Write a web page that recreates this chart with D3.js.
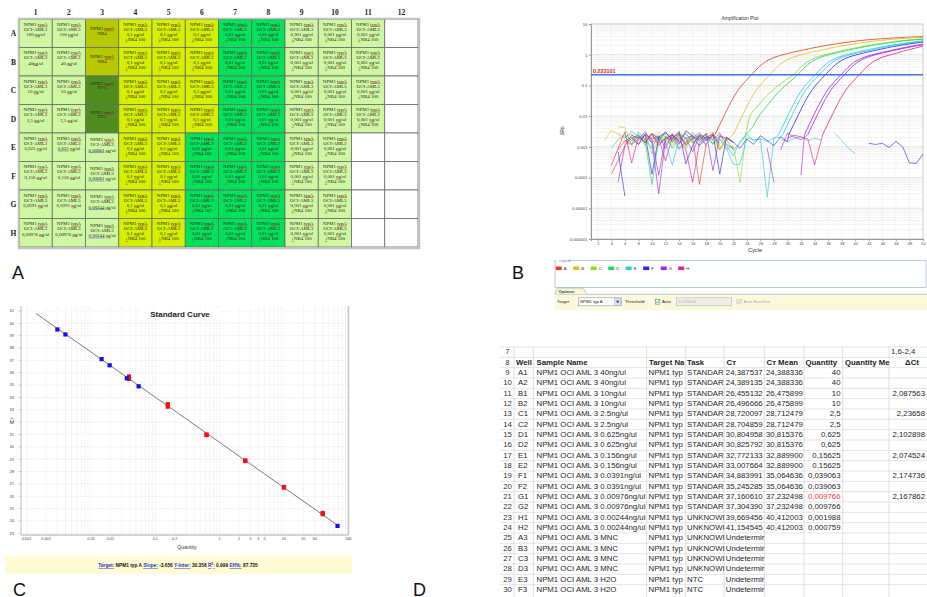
<!DOCTYPE html>
<html>
<head>
<meta charset="utf-8">
<script src="https://cdn.jsdelivr.net/npm/d3@7"></script>
<style>
  body { margin: 0; background: #fff; }
  svg { display: block; }
</style>
</head>
<body>
<svg id="chart" width="927" height="597"></svg>
<script>
// ---------- data: A, plate layout ----------
var plateCols = ['1','2','3','4','5','6','7','8','9','10','11','12'];
var plateRows = ['A','B','C','D','E','F','G','H'];
// s = standard, x = low standard, n = NB4, t = NTC, u/v/w = dilutions, - = empty
var plateLayout = [
  'ssnuuuvvwww-',
  'ssnuuuvvwww-',
  'sstuuuvvwww-',
  'sstuuuvvwww-',
  'ssxuuvvvww--',
  'ssxuuvvvww--',
  'ssxuuvvvww--',
  'ssxuuvvvww--'
];
var stdConc1 = ['100 ng/ul','40ng/ul','10 ng/ul','2,5 ng/ul','0,625 ng/ul','0,156 ng/ul','0,0391 ng/ul','0,00976 ng/ul'];
var stdConc2 = ['100 ng/ul','40 ng/ul','10 ng/ul','2,5 ng/ul','0,625 ng/ul','0,156 ng/ul','0,0391 ng/ul','0,00976 ng/ul'];
var lowConc = {E:'0,00061 ng/ul', F:'0,00061 ng/ul', G:'0,00244 ng/ul', H:'0,00244 ng/ul'};
var dilConc = {u:'0,1 ng/ul', v:'0,01 ng/ul', w:'0,001 ng/ul'};

// ---------- data: B, amplification plot ----------
var ampXTicks = [2,4,6,8,10,12,14,16,18,20,22,24,26,28,30,32,34,36,38,40,42,44,46,48,50];
var ampYTicks = [10,1,0.1,0.01,0.001,0.0001,0.00001,0.000001];
var ampYLabels = ['10','1','0.1','0.01','0.001','0.0001','0.00001','0.000001'];
var threshold = 0.223101;

// wells: baseline noise (one value per cycle from `start`) then the rise
var ampWells = [
  {row:'A', start:4, noise:[0.00013,0.00035,0.0011,0.0019,0.0024,0.0014,0.0027,0.0018,0.0031,0.0015,0.0024,0.0011,0.002,0.0029,0.0017,0.0021],
   rise:[[19.3,0.0025],[20.7,0.011],[21.7,0.03],[22.7,0.07],[23.7,0.13],[24.7,0.223],[25.7,0.38],[26.7,0.58],[27.7,0.76],[29.7,1.05],[31.7,1.33],[34.7,1.83],[37.7,2.35],[40.7,2.88],[43.7,3.3],[46.7,3.62],[50,3.9]]},
  {row:'B', start:3, noise:[0.0016,0.0035,0.0025,0.0013,0.0012,0.0022,0.0018,0.0028,0.0021,0.0015,0.0027,0.0019,0.0031,0.0024,0.0014,0.0021,0.0026,0.0009,0.0017],
   rise:[[22,0.0025],[23.4,0.011],[24.4,0.03],[25.4,0.07],[26.4,0.13],[27.4,0.223],[28.4,0.38],[29.4,0.58],[30.4,0.76],[32.4,1.05],[34.4,1.33],[37.4,1.83],[40.4,2.35],[43.4,2.88],[46.4,3.3],[49.4,3.62],[50,3.66]]},
  {row:'C', start:5, noise:[0.0045,0.0042,0.0011,0.0019,0.0026,0.0006,0.0018,0.0022,0.0013,0.0028,0.0009,0.0024,0.0016,0.002,0.0012,0.0025,0.0008,0.0011,0.00007],
   rise:[[24,0.004],[24.4,0.009],[25.5,0.02],[26.9,0.045],[27.9,0.072],[28.9,0.11],[29.9,0.16],[30.9,0.223],[31.9,0.38],[32.9,0.58],[33.9,0.76],[35.9,1.05],[37.9,1.33],[40.9,1.83],[43.9,2.35],[46.9,2.88],[50,3.3]]},
  {row:'D', start:5, noise:[0.0028,0.0019,0.0032,0.0021,0.0015,0.00006,0.0018,0.0026,0.0009,0.0021,0.0014,0.0029,0.0019,0.0024,0.0012,0.0022,0.0017,0.0008,0.0013,0.0027],
   rise:[[24.9,0.0045],[25.5,0.008],[26.5,0.016],[27.5,0.03],[28.5,0.055],[29.5,0.09],[30.5,0.14],[31.5,0.223],[32.5,0.38],[33.5,0.58],[34.5,0.76],[36.5,1.05],[38.5,1.33],[41.5,1.83],[44.5,2.35],[47.5,2.88],[50,3.2]]},
  {row:'E', start:6, noise:[0.0022,0.0012,0.0031,0.0017,0.0009,0.0024,0.0014,0.00025,0.0019,0.0026,0.0016,0.0011,0.0021,0.0013,0.0018,0.0009,0.00027,0.00027,0.002,0.0017,0.0018,0.0015,0.0019],
   rise:[[28.7,0.0025],[30.1,0.011],[31.1,0.03],[32.1,0.07],[33.1,0.13],[34.1,0.223],[35.1,0.38],[36.1,0.58],[37.1,0.76],[39.1,1.05],[41.1,1.33],[44.1,1.83],[47.1,2.35],[50,2.85]]},
  {row:'E', start:7, noise:[0.0016,0.0026,0.0011,0.0021,0.0017,0.0029,0.0019,0.0008,0.0014,0.0023,0.0019,0.0012,0.0025,0.0017,0.0011,0.0005,0.0016,0.0026,0.0016,0.0019,0.000023,0.0019,0.0021],
   rise:[[29.3,0.0025],[30.7,0.011],[31.7,0.03],[32.7,0.07],[33.7,0.13],[34.7,0.223],[35.7,0.38],[36.7,0.58],[37.7,0.76],[39.7,1.05],[41.7,1.33],[44.7,1.83],[47.7,2.35],[50,2.75]]},
  {row:'F', start:5, noise:[0.0007,0.000025,null,0.0016,0.0024,0.00013,0.0021,0.0029,0.0018,0.0032,0.00028,0.0011,0.0025,0.0019,0.0027,0.00013,0.0021,0.0014,0.0009,0.0018,0.0012,0.0023,0.0016,0.0011,0.0021,0.0015],
   rise:[[30.2,0.0025],[31.6,0.011],[32.6,0.03],[33.6,0.07],[34.6,0.13],[35.6,0.223],[36.6,0.38],[37.6,0.58],[38.6,0.76],[40.6,1.05],[42.6,1.33],[45.6,1.83],[48.6,2.35],[50,2.55]]},
  {row:'G', start:5, noise:[0.00007,0.0011,0.0024,0.0019,0.0031,0.0013,0.00003,0.0017,0.0025,0.0012,0.0034,0.0022,0.0016,0.0028,0.00017,0.0023,0.0019,0.0014,null,null,null,null,0.0009,0.00007,null,null,null,0.00012],
   rise:[[32.5,0.0025],[33.9,0.011],[34.9,0.03],[35.9,0.07],[36.9,0.13],[37.9,0.223],[38.9,0.38],[39.9,0.58],[40.9,0.76],[42.9,1.05],[44.9,1.33],[47.9,1.83],[50,2.2]]},
  {row:'G', start:6, noise:[0.0015,0.0021,0.0012,0.0027,0.0018,0.0022,0.0009,0.0026,0.0014,0.0019,0.0023,0.0011,0.0017,0.0024,0.0013,null,null,null,null,null,null,null,null,0.0008,0.0028,0.0021,0.0017],
   rise:[[33,0.0025],[34.4,0.011],[35.4,0.03],[36.4,0.07],[37.4,0.13],[38.4,0.223],[39.4,0.38],[40.4,0.58],[41.4,0.76],[43.4,1.05],[45.4,1.33],[48.4,1.83],[50,2.1]]},
  {row:'H', start:4, noise:[0.00025,0.0009,0.0031,0.0003,0.0021,0.0014,0.0026,0.0011,0.0019,0.0024,0.0016,0.0008,0.00007,0.0013,0.0022,0.0017,0.0028,0.0012,0.0009,null,null,null,null,null,null,null,0.0019,0.0024,0.0021,0.0018,0.00026],
   rise:[[35.2,0.0025],[36.6,0.011],[37.6,0.03],[38.6,0.07],[39.6,0.13],[40.6,0.223],[41.6,0.38],[42.6,0.58],[43.6,0.76],[45.6,1.05],[47.6,1.4],[50,1.9]]}
];
// MNC / NTC wells and late baseline pieces (noise only)
var ampNoise = [
  {row:'A', start:5, noise:[0.0008,0.0016,0.0012,0.0023,0.0017,0.0026,0.0013,0.0019,0.0024,0.0009,0.0015,0.0021,0.00006,0.0012,0.0026,0.0008,0.0019,0.0014]},
  {row:'C', start:6, noise:[0.0021,0.0027,0.0012,0.0018,0.0009,0.0022,0.0016,0.0011,0.0024,0.0019,0.0013,0.0021,0.0026,0.0015,0.0009]},
  {row:'B', start:8, noise:[0.0019,0.0024,0.0015,0.0029,0.0021,0.0017,0.0026,0.0012,0.0022,0.0018,0.0025,0.0031,0.0008,0.0019]},
  {row:'D', start:4, noise:[0.0009,0.0017,0.0025,0.0016,0.0021,0.0013,0.0027,0.0019,0.0012,0.0023,0.0017,0.0028,0.0014,0.0021,0.0016,0.0024,0.0011]},
  {row:'G', start:7, noise:[0.0019,0.0012,0.0026,0.0017,0.00012,0.0021,0.0015,0.0028,0.0019,0.0007,0.0022,0.0016]},
  {row:'H', start:9, noise:[0.0023,0.0014,0.0019,0.00035,0.0021,0.0027,0.0012,0.0018,0.0024,0.0011]},
  {row:'E', start:29, noise:[0.0017,0.0015,0.0019,0.0021,0.0016,0.0019,0.0017,null,0.0028,0.0016,0.0009,0.0006]},
  {row:'F', start:42, noise:[0.0013,0.0012,0.0013,0.00095,0.0015,0.001,0.0003,0.00029,0.00058]}
];
var rowColors = {A:'#ec3a22', B:'#e6bd14', C:'#84e02c', D:'#22d45a', E:'#2cc8ea', F:'#2430e6', G:'#9a2ae6', H:'#e6208a'};

// ---------- data: C, standard curve ----------
var stdQty = [40,40,10,10,2.5,2.5,0.625,0.625,0.156,0.156,0.039,0.039];
var stdCt  = [24.55,24.65,26.7,26.75,28.9,28.85,30.95,31.0,33.25,33.45,35.5,35.7];
var unkQty = [68,0.036,0.055,0.0195,0.0146,0.004,0.003];
var unkCt  = [23.6,35.55,34.9,36.6,37.1,39.1,39.5];
var fitSlope = -3.656, fitIntercept = 30.358, fitRange = [0.0014, 68];
var qtyTicks = [0.001,0.002,0.01,0.02,0.1,0.2,1,2,3,4,5,10,20,30,100];
var ctTicks = [23,24,25,26,27,28,29,30,31,32,33,34,35,36,37,38,39,40,41];

// ---------- data: D, results table ----------
var tblRowNums = [7,8,9,10,11,12,13,14,15,16,17,18,19,20,21,22,23,24,25,26,27,28,29,30];
var tblHeader = ['Well','Sample Name','Target Na','Task','C\u0442','C\u0442 Mean','Quantity','Quantity Me','\u0394Ct'];
var tblWell = ['A1','A2','B1','B2','C1','C2','D1','D2','E1','E2','F1','F2','G1','G2','H1','H2','A3','B3','C3','D3','E3','F3'];
var tblSample = ['NPM1 OCI AML 3 40ng/ul','NPM1 OCI AML 3 40ng/ul','NPM1 OCI AML 3 10ng/ul','NPM1 OCI AML 3 10ng/ul',
  'NPM1 OCI AML 3 2.5ng/ul','NPM1 OCI AML 3 2.5ng/ul','NPM1 OCI AML 3 0.625ng/ul','NPM1 OCI AML 3 0.625ng/ul',
  'NPM1 OCI AML 3 0.156ng/ul','NPM1 OCI AML 3 0.156ng/ul','NPM1 OCI AML 3 0.0391ng/ul','NPM1 OCI AML 3 0.0391ng/ul',
  'NPM1 OCI AML 3 0.00976ng/ul','NPM1 OCI AML 3 0.00976ng/ul','NPM1 OCI AML 3 0.00244ng/ul','NPM1 OCI AML 3 0.00244ng/ul',
  'NPM1 OCI AML 3 MNC','NPM1 OCI AML 3 MNC','NPM1 OCI AML 3 MNC','NPM1 OCI AML 3 MNC','NPM1 OCI AML 3 H2O','NPM1 OCI AML 3 H2O'];
var tblTarget = ['NPM1 typ','NPM1 typ','NPM1 typ','NPM1 typ','NPM1 typ','NPM1 typ','NPM1 typ','NPM1 typ','NPM1 typ','NPM1 typ','NPM1 typ',
  'NPM1 typ','NPM1 typ','NPM1 typ','NPM1 typ','NPM1 typ','NPM1 typ','NPM1 typ','NPM1 typ','NPM1 typ','NPM1 typ','NPM1 typ'];
var tblTask = ['STANDAR','STANDAR','STANDAR','STANDAR','STANDAR','STANDAR','STANDAR','STANDAR','STANDAR','STANDAR','STANDAR',
  'STANDAR','STANDAR','STANDAR','UNKNOWI','UNKNOWI','UNKNOWI','UNKNOWI','UNKNOWI','UNKNOWI','NTC','NTC'];
var tblCt = ['24,387537','24,389135','26,455132','26,496666','28,720097','28,704859','30,804958','30,825792','32,772133','33,007664',
  '34,883991','35,245285','37,160610','37,304390','39,669456','41,154545','Undetermir','Undetermir','Undetermir','Undetermir','Undetermir','Undetermir'];
var tblCtMean = ['24,388336','24,388336','26,475899','26,475899','28,712479','28,712479','30,815376','30,815376','32,889900','32,889900',
  '35,064636','35,064636','37,232498','37,232498','40,412003','40,412003','','','','','',''];
var tblQty = ['40','40','10','10','2,5','2,5','0,625','0,625','0,15625','0,15625','0,039063','0,039063','0,009766','0,009766','0,001988','0,000759','','','','','',''];
var tblDct = ['','','2,087563','','2,23658','','2,102898','','2,074524','','2,174736','','2,167862','','','','','','','','',''];
var tblRangeNote = '1,6-2,4';

var svg = d3.select('#chart');
var SANS = 'Liberation Sans, Arial, sans-serif';
var SERIF = 'Liberation Serif, Times New Roman, serif';

// ================= A: plate =================
var gA = svg.append('g');
var px = d3.scaleBand().domain(plateCols).range([19, 418]);
var py = d3.scaleBand().domain(plateRows).range([19, 247]);
var cellFill = {s:'#cdf7a0', x:'#cdf7a0', w:'#cdf7a0', n:'#b6c800', t:'#4f8e1e', u:'#d4f000', v:'#00e25a', '-':'#ffffff'};

gA.selectAll('text.colh').data(plateCols).enter().append('text')
  .attr('x', function(d) { return px(d) + px.bandwidth() / 2; })
  .attr('y', 14.5).attr('text-anchor', 'middle')
  .style('font', 'bold 7.5px ' + SERIF).style('fill', '#222').text(function(d) { return d; });
gA.selectAll('text.rowh').data(plateRows).enter().append('text')
  .attr('x', 13.5).attr('y', function(d) { return py(d) + py.bandwidth() / 2 + 2.8; })
  .attr('text-anchor', 'middle')
  .style('font', 'bold 7.5px ' + SERIF).style('fill', '#222').text(function(d) { return d; });

// text lines + baseline offsets for a cell
function cellLines(code, ri, ci) {
  var r = plateRows[ri];
  if (code === 's') return {lines:['NPM1 typA','OCI-AML3', ci === 0 ? stdConc1[ri] : stdConc2[ri]], off:[6.8, 11.9, 17]};
  if (code === 'x') return {lines:['NPM1 typA','OCI-AML3', lowConc[r]], off:[8.3, 13.4, 18.5], blue:true};
  if (code === 'n') return {lines:['NPM1 typA','NB4'], off:[10.8, 15.8]};
  if (code === 't') return {lines:['NPM1 typA','NTC'], off:[9, 13.4]};
  if (code === '-') return {lines:[], off:[]};
  return {lines:['NPM1 typA','OCI-AML3', dilConc[code], '\u2193NB4 100'], off:[6.6, 11.7, 16.8, 21.9]};
}

plateLayout.forEach(function(rowStr, ri) {
  plateCols.forEach(function(col, ci) {
    var code = rowStr[ci];
    var x0 = px(col), y0 = py(plateRows[ri]);
    gA.append('rect').attr('x', x0).attr('y', y0)
      .attr('width', px.bandwidth()).attr('height', py.bandwidth())
      .style('fill', cellFill[code]).style('stroke', '#6a6a6a').style('stroke-width', 0.8);
    var info = cellLines(code, ri, ci);
    info.lines.forEach(function(s, li) {
      var t = gA.append('text').attr('x', x0 + px.bandwidth() / 2).attr('y', y0 + info.off[li])
        .attr('text-anchor', 'middle').style('font', '4.9px ' + SERIF).style('fill', '#2a2a2a').text(s);
      var node = t.node();
      // spell-check style underlines
      function underline(i0, i1, color) {
        if (i0 < 0) return;
        var a = node.getStartPositionOfChar(i0).x, b = node.getEndPositionOfChar(i1).x;
        gA.append('line').attr('x1', a).attr('x2', b)
          .attr('y1', y0 + info.off[li] + 0.9).attr('y2', y0 + info.off[li] + 0.9)
          .style('stroke', color).style('stroke-width', 0.55);
      }
      if (s.indexOf('typA') >= 0) underline(s.indexOf('typA'), s.indexOf('typA') + 3, '#e23030');
      if (s.indexOf('ng/') >= 0) {
        if (info.blue || (ci === 1 && ri === 4)) underline(0, s.indexOf(' ng') > 0 ? s.indexOf(' ng') - 1 : 4, '#3050d0');
        underline(s.indexOf('ng/'), s.indexOf('ng/') + 1, '#e23030');
      }
      if (s.charAt(0) === '\u2193') underline(0, 0, '#e23030');
    });
  });
});
gA.append('rect').attr('x', 18.5).attr('y', 18.5).attr('width', 401).attr('height', 230)
  .style('fill', 'none').style('stroke', '#c4c4c4').style('stroke-width', 1.6);

// ================= B: amplification plot =================
var gB = svg.append('g');
var ax = d3.scaleLinear().domain([1, 50]).range([591, 923]);
var ay = d3.scaleLog().domain([1e-6, 10]).range([239, 24]);

gB.append('text').attr('x', 740).attr('y', 20).attr('text-anchor', 'middle')
  .style('font', '4.8px ' + SANS).style('fill', '#333').text('Amplification Plot');

// grid
var minorVals = [];
ampYTicks.slice(1).forEach(function(d) { for (var m = 2; m <= 9; m++) minorVals.push(d * m); });
gB.selectAll('line.ymin').data(minorVals).enter().append('line')
  .attr('x1', ax(1)).attr('x2', ax(50)).attr('y1', function(d) { return ay(d); }).attr('y2', function(d) { return ay(d); })
  .style('stroke', '#e9e9e9').style('stroke-width', 0.6);
gB.selectAll('line.ymaj').data(ampYTicks).enter().append('line')
  .attr('x1', ax(1)).attr('x2', ax(50)).attr('y1', function(d) { return ay(d); }).attr('y2', function(d) { return ay(d); })
  .style('stroke', '#d4d4d4').style('stroke-width', 0.6);
gB.selectAll('line.xg').data(ampXTicks).enter().append('line')
  .attr('x1', function(d) { return ax(d); }).attr('x2', function(d) { return ax(d); }).attr('y1', ay(10)).attr('y2', ay(1e-6))
  .style('stroke', '#e2e2e2').style('stroke-width', 0.6).style('stroke-dasharray', '1.5,1');
gB.append('rect').attr('x', ax(1)).attr('y', ay(10)).attr('width', ax(50) - ax(1)).attr('height', ay(1e-6) - ay(10))
  .style('fill', 'none').style('stroke', '#c8c8c8').style('stroke-width', 0.8);

// axes
var xAxisB = d3.axisBottom(ax).tickValues(ampXTicks).tickSize(2).tickPadding(1.5);
gB.append('g').attr('transform', 'translate(0,' + ay(1e-6) + ')').call(xAxisB)
  .call(function(g) {
    g.select('.domain').style('stroke', '#999');
    g.selectAll('line').style('stroke', '#999');
    g.selectAll('text').style('font', '3.9px ' + SANS).style('fill', '#444');
  });
var yAxisB = d3.axisLeft(ay).tickValues(ampYTicks).tickSize(2).tickPadding(1.5)
  .tickFormat(function(d, i) { return ampYLabels[i]; });
gB.append('g').attr('transform', 'translate(' + ax(1) + ',0)').call(yAxisB)
  .call(function(g) {
    g.select('.domain').style('stroke', '#999');
    g.selectAll('line').style('stroke', '#999');
    g.selectAll('text').style('font', '4.2px ' + SANS).style('fill', '#444');
  });
gB.append('text').attr('x', 755).attr('y', 252).attr('text-anchor', 'middle')
  .style('font', '5.6px ' + SANS).style('fill', '#333').text('Cycle');
gB.append('text').attr('transform', 'translate(564,131) rotate(-90)').attr('text-anchor', 'middle')
  .style('font', '4.6px ' + SANS).style('fill', '#333').text('\u0394Rn');

// curves
gB.append('clipPath').attr('id', 'ampClip').append('rect')
  .attr('x', ax(1)).attr('y', ay(10)).attr('width', ax(50) - ax(1)).attr('height', ay(1e-6) - ay(10));
var gCurves = gB.append('g').attr('clip-path', 'url(#ampClip)');
var noiseLine = d3.line().defined(function(d) { return d[1] != null; })
  .x(function(d) { return ax(d[0]); }).y(function(d) { return ay(d[1]); });
var riseLine = d3.line().curve(d3.curveMonotoneX)
  .x(function(d) { return ax(d[0]); }).y(function(d) { return ay(d[1]); });
function noisePts(w) { return w.noise.map(function(v, i) { return [w.start + i, v]; }); }

ampNoise.forEach(function(w) {
  gCurves.append('path').attr('d', noiseLine(noisePts(w)))
    .style('fill', 'none').style('stroke', rowColors[w.row]).style('stroke-width', 0.75).style('opacity', 0.85);
});
ampWells.forEach(function(w) {
  var pts = noisePts(w);
  var last = pts[pts.length - 1];
  if (last[1] != null) pts.push(w.rise[0]);
  gCurves.append('path').attr('d', noiseLine(pts))
    .style('fill', 'none').style('stroke', rowColors[w.row]).style('stroke-width', 0.75).style('opacity', 0.85);
  gCurves.append('path').attr('d', riseLine(w.rise))
    .style('fill', 'none').style('stroke', rowColors[w.row]).style('stroke-width', 0.9).style('opacity', 0.9);
});

// threshold
gB.append('line').attr('x1', ax(1)).attr('x2', ax(50)).attr('y1', ay(threshold)).attr('y2', ay(threshold))
  .style('stroke', '#3d6ff0').style('stroke-width', 1.6);
gB.append('text').attr('x', ax(1) + 2).attr('y', ay(threshold) - 1.6)
  .style('font', 'bold 5.4px ' + SANS).style('fill', '#f02020').text('0.223101');

// legend box
gB.append('rect').attr('x', 555).attr('y', 260.5).attr('width', 371).attr('height', 27)
  .style('fill', '#fff').style('stroke', '#a9bcd6').style('stroke-width', 0.8);
gB.append('rect').attr('x', 556).attr('y', 258.5).attr('width', 12).attr('height', 4).style('fill', '#fff');
gB.append('text').attr('x', 557).attr('y', 262).style('font', '3.4px ' + SANS).style('fill', '#7a8aa0').text('\u25e6 Legend');
var lx = d3.scaleBand().domain(plateRows).range([555.7, 695.7]);
var lg = gB.selectAll('g.leg').data(plateRows).enter().append('g');
lg.append('rect').attr('x', function(d) { return lx(d); }).attr('y', 266.5).attr('width', 6).attr('height', 3.6)
  .style('fill', function(d) { return rowColors[d]; });
lg.append('text').attr('x', function(d) { return lx(d) + 8; }).attr('y', 269.8)
  .style('font', '4.2px ' + SANS).style('fill', '#333').text(function(d) { return d; });

// options panel
gB.append('rect').attr('x', 555).attr('y', 294.3).attr('width', 372).attr('height', 16)
  .style('fill', '#fdf9dc');
gB.append('line').attr('x1', 555).attr('x2', 927).attr('y1', 294.3).attr('y2', 294.3)
  .style('stroke', '#9fb4cf').style('stroke-width', 0.8);
gB.append('path').attr('d', 'M555,294.3 L556.5,289 Q557,288 559,288 L581,288 Q583,288 584,289.5 L587,294.3')
  .style('fill', '#fdf6d0').style('stroke', '#9fb4cf').style('stroke-width', 0.8);
gB.append('text').attr('x', 558.5).attr('y', 292.8).style('font', 'bold 4.2px ' + SANS).style('fill', '#2c4a78').text('Options');
function optText(x, s, col) {
  gB.append('text').attr('x', x).attr('y', 303.3).style('font', '4.3px ' + SANS).style('fill', col || '#222').text(s);
}
optText(557, 'Target:');
gB.append('rect').attr('x', 578.5).attr('y', 297.8).attr('width', 43).attr('height', 8)
  .style('fill', '#fff').style('stroke', '#8a9ab0').style('stroke-width', 0.6);
gB.append('rect').attr('x', 614.5).attr('y', 298.3).attr('width', 6.5).attr('height', 7)
  .style('fill', '#d6e2f2').style('stroke', '#9fb0c8').style('stroke-width', 0.4);
gB.append('path').attr('d', 'M616,300.8 L619.5,300.8 L617.75,303.3 Z').style('fill', '#304870');
optText(580, 'NPM1 typ A');
optText(625, 'Threshold:');
gB.append('rect').attr('x', 655.3).attr('y', 299.5).attr('width', 4.6).attr('height', 4.6)
  .style('fill', '#fff').style('stroke', '#3a6a9a').style('stroke-width', 0.5);
gB.append('path').attr('d', 'M656.2,301.7 L657.4,303.1 L659.2,300.2').style('fill', 'none').style('stroke', '#1a9a1a').style('stroke-width', 0.7);
optText(662, 'Auto');
gB.append('rect').attr('x', 676.5).attr('y', 297.8).attr('width', 55).attr('height', 8)
  .style('fill', '#efefe6').style('stroke', '#b8b8b0').style('stroke-width', 0.6);
optText(678.5, '0.223101', '#aaa');
gB.append('rect').attr('x', 736.8).attr('y', 299.5).attr('width', 4.4).attr('height', 4.4)
  .style('fill', '#f4f4ee').style('stroke', '#bbb').style('stroke-width', 0.5);
gB.append('path').attr('d', 'M737.6,301.6 L738.8,303 L740.6,300.1').style('fill', 'none').style('stroke', '#aaa').style('stroke-width', 0.6);
optText(743.5, 'Auto Baseline', '#aaa');

// ================= C: standard curve =================
var gC = svg.append('g');
var cx = d3.scaleLog().domain([0.001, 100]).range([26.7, 348.3]);
var cy = d3.scaleLinear().domain([23, 40]).range([533.3, 323.3]);
var cTop = cy(41.4), cBot = 535, cLeft = 21, cRight = 348.5;

// grid
var qMinor = [];
[0.001,0.01,0.1,1,10].forEach(function(d) { for (var m = 1; m <= 9; m++) qMinor.push(d * m); });
qMinor.push(100);
gC.selectAll('line.qg').data(qMinor).enter().append('line')
  .attr('x1', function(d) { return cx(d); }).attr('x2', function(d) { return cx(d); }).attr('y1', cTop).attr('y2', cBot)
  .style('stroke', '#dcdcdc').style('stroke-width', 0.6).style('stroke-dasharray', '1,1');
gC.selectAll('line.cg').data(ctTicks).enter().append('line')
  .attr('x1', cLeft).attr('x2', cRight).attr('y1', function(d) { return cy(d); }).attr('y2', function(d) { return cy(d); })
  .style('stroke', '#dcdcdc').style('stroke-width', 0.6).style('stroke-dasharray', '1,1');

gC.append('rect').attr('x', 140).attr('y', 308.5).attr('width', 80).attr('height', 10).style('fill', '#fff');
gC.append('text').attr('x', 180).attr('y', 316.5).attr('text-anchor', 'middle')
  .style('font', 'bold 8px ' + SANS).style('fill', '#222').text('Standard Curve');

// axes
gC.append('line').attr('x1', cLeft).attr('x2', cLeft).attr('y1', cTop).attr('y2', cBot).style('stroke', '#aaa').style('stroke-width', 0.8);
gC.append('line').attr('x1', cLeft).attr('x2', cRight).attr('y1', cBot).attr('y2', cBot).style('stroke', '#aaa').style('stroke-width', 1);
gC.append('line').attr('x1', cRight).attr('x2', cRight).attr('y1', cTop).attr('y2', cBot).style('stroke', '#c8c8c8').style('stroke-width', 1.6);
gC.selectAll('text.ct').data(ctTicks).enter().append('text')
  .attr('x', 14).attr('y', function(d) { return cy(d) + 1.4; }).attr('text-anchor', 'end')
  .style('font', '4px ' + SANS).style('fill', '#444').text(function(d) { return d; });
gC.selectAll('line.ctk').data(ctTicks).enter().append('line')
  .attr('x1', cLeft - 2.5).attr('x2', cLeft).attr('y1', function(d) { return cy(d); }).attr('y2', function(d) { return cy(d); })
  .style('stroke', '#aaa').style('stroke-width', 0.5);
gC.selectAll('text.qt').data(qtyTicks).enter().append('text')
  .attr('x', function(d) { return cx(d); }).attr('y', 540.3).attr('text-anchor', 'middle')
  .style('font', '3.8px ' + SANS).style('fill', '#444').text(function(d) { return d; });
gC.append('text').attr('x', 187).attr('y', 548.5).attr('text-anchor', 'middle')
  .style('font', '5.2px ' + SANS).style('fill', '#333').text('Quantity');
gC.append('text').attr('transform', 'translate(13.5,420) rotate(-90)').attr('text-anchor', 'middle')
  .style('font', '5px ' + SANS).style('fill', '#333').text('C\u0442');

// regression line
var fitPts = fitRange.map(function(q) { return [q, fitSlope * Math.log10(q) + fitIntercept]; });
gC.append('line').attr('x1', cx(fitPts[0][0])).attr('y1', cy(fitPts[0][1]))
  .attr('x2', cx(fitPts[1][0])).attr('y2', cy(fitPts[1][1]))
  .style('stroke', '#6e6e6e').style('stroke-width', 0.9);

// points
var ptSize = 4.2;
gC.selectAll('rect.std').data(stdQty).enter().append('rect')
  .attr('x', function(d) { return cx(d) - ptSize / 2; }).attr('y', function(d, i) { return cy(stdCt[i]) - ptSize / 2; })
  .attr('width', ptSize).attr('height', ptSize).style('fill', '#f21010');
gC.selectAll('rect.unk').data(unkQty).enter().append('rect')
  .attr('x', function(d) { return cx(d) - ptSize / 2; }).attr('y', function(d, i) { return cy(unkCt[i]) - ptSize / 2; })
  .attr('width', ptSize).attr('height', ptSize).style('fill', '#1010f0');

// footer
gC.append('rect').attr('x', 5).attr('y', 556).attr('width', 347).attr('height', 18).style('fill', '#fffbd2');
var foot = gC.append('text').attr('x', 178).attr('y', 567).attr('text-anchor', 'middle')
  .style('font', 'bold 4.8px ' + SANS).style('fill', '#111');
var footParts = [['Target:', 1], [' NPM1 typ A ', 0], ['Slope:', 1], [' -3.656 ', 0], ['Y-Inter:', 1], [' 30.358 ', 0],
  ['R', 1], ['2', 2], [':', 1], [' 0.999 ', 0], ['Eff%:', 1], [' 87.735', 0]];
footParts.forEach(function(p) {
  var ts = foot.append('tspan').text(p[0]);
  if (p[1] === 1) ts.style('fill', '#2233cc').style('text-decoration', 'underline');
  if (p[1] === 2) ts.style('fill', '#2233cc').style('font-size', '3.2px').attr('dy', -1.6);
  if (p[0] === ':') ts.attr('dy', 1.6);
});

// ================= D: table =================
var gD = svg.append('g');
var colX = [500, 514, 533.3, 646.7, 685.7, 724, 764.3, 804, 842.7, 889, 927];
var ty = d3.scaleBand().domain(tblRowNums).range([346.5, 594.5]);
var FS = 7.8;

// grid lines
gD.selectAll('line.hr').data(tblRowNums).enter().append('line')
  .attr('x1', 500).attr('x2', 927).attr('y1', function(d) { return ty(d) + 0.5; }).attr('y2', function(d) { return ty(d) + 0.5; })
  .style('stroke', '#dadada').style('stroke-width', 0.7);
gD.selectAll('line.vr').data(colX.slice(1, 10)).enter().append('line')
  .attr('x1', function(d) { return d; }).attr('x2', function(d) { return d; }).attr('y1', ty(7)).attr('y2', 597)
  .style('stroke', '#d2d2d2').style('stroke-width', 0.7);

function cellText(x, rowNum, s, opt) {
  opt = opt || {};
  return gD.append('text').attr('x', x).attr('y', ty(rowNum) + ty.bandwidth() / 2 + 2.8)
    .attr('text-anchor', opt.anchor || 'start')
    .style('font', (opt.bold ? 'bold ' : '') + FS + 'px ' + SANS).style('fill', opt.color || '#1e1e1e').text(s);
}

tblRowNums.forEach(function(n) { cellText(507.5, n, n, {anchor: 'middle', color: '#333'}); });
cellText(colX[9] + 2, 7, tblRangeNote);
var headX = [516, 536.5, 649, 687, 726.5, 766.5, 805.5, 845];
tblHeader.forEach(function(h, i) {
  if (i < 8) cellText(headX[i], 8, h, {bold: true});
  else cellText(912, 8, h, {bold: true, anchor: 'middle'});
});
tblWell.forEach(function(w, i) {
  var n = 9 + i;
  cellText(518, n, w);
  cellText(536.5, n, tblSample[i]);
  cellText(648.5, n, tblTarget[i]);
  cellText(687, n, tblTask[i]);
  cellText(725.8, n, tblCt[i]);
  if (tblCtMean[i]) cellText(766, n, tblCtMean[i]);
  if (tblQty[i]) cellText(840.5, n, tblQty[i], {anchor: 'end', color: n === 21 ? '#ff3030' : '#1e1e1e'});
  if (tblDct[i]) cellText(925, n, tblDct[i], {anchor: 'end'});
});

// ================= panel letters =================
var letters = [['A', 12, 279], ['B', 512, 279], ['C', 13, 596], ['D', 413, 596]];
svg.selectAll('text.letter').data(letters).enter().append('text')
  .attr('x', function(d) { return d[1]; }).attr('y', function(d) { return d[2]; })
  .style('font', '18px ' + SANS).style('fill', '#111').text(function(d) { return d[0]; });
</script>
</body>
</html>
